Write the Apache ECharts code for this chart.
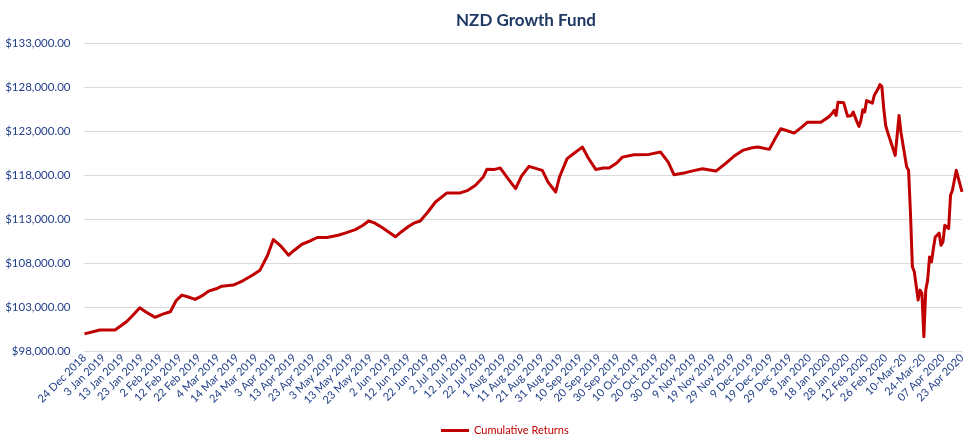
<!DOCTYPE html>
<html>
<head>
<meta charset="utf-8">
<title>NZD Growth Fund</title>
<script src="https://cdn.jsdelivr.net/npm/echarts@6/dist/echarts.min.js"></script>
<style>
  html, body { margin: 0; padding: 0; background: #fff; }
  #main { width: 968px; height: 437px; }
</style>
</head>
<body>
<div id="main"></div>
<script>
// x 轴刻度标签（每 10 个类目一个）
var tickLabels = [
  "24 Dec 2018", "3 Jan 2019", "13 Jan 2019", "23 Jan 2019", "2 Feb 2019",
  "12 Feb 2019", "22 Feb 2019", "4 Mar 2019", "14 Mar 2019", "24 Mar 2019",
  "3 Apr 2019", "13 Apr 2019", "23 Apr 2019", "3 May 2019", "13 May 2019",
  "23 May 2019", "2 Jun 2019", "12 Jun 2019", "22 Jun 2019", "2 Jul 2019",
  "12 Jul 2019", "22 Jul 2019", "1 Aug 2019", "11 Aug 2019", "21 Aug 2019",
  "31 Aug 2019", "10 Sep 2019", "20 Sep 2019", "30 Sep 2019", "10 Oct 2019",
  "20 Oct 2019", "30 Oct 2019", "9 Nov 2019", "19 Nov 2019", "29 Nov 2019",
  "9 Dec 2019", "19 Dec 2019", "29 Dec 2019", "8 Jan 2020", "18 Jan 2020",
  "28 Jan 2020", "12 Feb 2020", "26 Feb 2020", "10-Mar-20", "24-Mar-20",
  "07 Apr 2020", "23 Apr 2020"
];

// 数据点所在的类目位置（从第一个日期开始计数）
var dayIndex = [
  0, 8, 16, 22, 25, 29, 32, 37, 41, 45, 48, 51, 54, 58, 62, 65, 69, 72, 78, 83,
  88, 92, 96, 99, 103, 107, 110, 114, 118, 122, 127, 133, 137, 142, 146, 149, 152, 156, 163, 166,
  170, 173, 176, 180, 184, 190, 197, 201, 205, 209, 211, 215, 218, 222, 226, 229, 233, 236, 240, 243,
  247, 249, 253, 257, 261, 264, 268, 272, 275, 279, 282, 288, 296, 302, 306, 309, 315, 320, 324, 327,
  331, 336, 341, 345, 350, 353, 359, 362, 365, 368, 372, 373, 376, 379, 386, 390, 392, 393, 394, 395,
  396, 398, 400, 402, 403, 405, 406, 407, 408, 409, 410, 411, 413, 414, 416, 417, 418, 419, 420, 421,
  423, 424, 425, 426, 427, 428, 430, 431, 432, 433, 434, 435, 436, 437, 438, 439, 440, 441, 442, 443,
  444, 445, 446, 447, 448, 449, 450, 451, 453, 454, 455, 457, 458, 460
];

// 累计收益（NZD）
var fundValues = [
  99950, 100390, 100390, 101330, 101980, 102920, 102470, 101830, 102200, 102470,
  103720, 104360, 104170, 103870, 104330, 104810, 105080, 105380, 105500, 105990,
  106630, 107200, 108900, 110690, 109930, 108900, 109470, 110150, 110500, 110920,
  110920, 111180, 111440, 111820, 112310, 112800, 112580, 112050, 111000, 111550,
  112200, 112580, 112800, 113820, 114960, 115990, 115990, 116290, 116860, 117800,
  118700, 118670, 118820, 117620, 116480, 117880, 119020, 118820, 118560, 117230,
  116100, 117800, 119890, 120570, 121210, 120000, 118670, 118820, 118820, 119390,
  120070, 120340, 120380, 120640, 119500, 118070, 118300, 118560, 118750, 118640,
  118480, 119320, 120260, 120830, 121140, 121210, 120950, 122160, 123300, 123100,
  122800, 122910, 123480, 124050, 124050, 124620, 125070, 125380, 124810, 126320,
  126320, 126250, 124730, 124810, 125190, 124050, 123560, 124240, 125460, 125190,
  126510, 126630, 126210, 127080, 127840, 128330, 128100, 125570, 123670, 122910,
  121590, 121780, 120260, 122530, 124810, 122910, 120260, 118940, 118560, 113640,
  107580, 107010, 106830, 103800, 104930, 104550, 99620, 104930, 106070, 108710,
  108140, 109660, 110980, 110980, 111430, 110040, 110410, 112310, 111940, 115720,
  116290, 118560, 118560, 116100
];

var seriesData = dayIndex.map(function (d, i) {
  return [d, fundValues[i]];
});

var labelColor = "#23408a";
var gridColor = "#d9d9d9";
var lineColor = "#c00000";

var myChart = echarts.init(document.getElementById("main"));

var option = {
  animation: false,
  backgroundColor: "#ffffff",
  textStyle: { fontFamily: "Lato, 'Open Sans', sans-serif" },
  title: {
    text: "NZD Growth Fund",
    left: 451,
    top: 7,
    textStyle: {
      color: "#1f3864",
      fontSize: 17,
      fontWeight: "bold",
      fontFamily: "Lato, 'Open Sans', sans-serif",
    },
  },
  legend: {
    left: 436,
    top: 420,
    icon: "rect",
    itemWidth: 28,
    itemHeight: 3,
    itemGap: 4,
    textStyle: { color: lineColor, fontSize: 11 },
    data: ["Cumulative Returns"],
  },
  grid: {
    left: 84.5,
    right: 0,
    top: 43.5,
    bottom: 86,
  },
  xAxis: {
    type: "value",
    min: 0,
    max: 460,
    interval: 10,
    axisLine: { show: true, lineStyle: { color: gridColor, width: 1 } },
    axisTick: { show: false },
    splitLine: { show: false },
    axisLabel: {
      rotate: 45,
      margin: 5,
      color: labelColor,
      fontSize: 11,
      showMinLabel: true,
      showMaxLabel: true,
      formatter: function (v) {
        return tickLabels[Math.round(v / 10)] || "";
      },
    },
  },
  yAxis: {
    type: "value",
    min: 98000,
    max: 133000,
    interval: 5000,
    axisLine: { show: false },
    axisTick: { show: false },
    splitLine: { lineStyle: { color: gridColor, width: 1 } },
    axisLabel: {
      margin: 14,
      color: labelColor,
      fontSize: 11.5,
      formatter: function (v) {
        return "$" + v.toLocaleString("en-US", { minimumFractionDigits: 2, maximumFractionDigits: 2 });
      },
    },
  },
  series: [
    {
      name: "Cumulative Returns",
      type: "line",
      data: seriesData,
      symbol: "none",
      lineStyle: { color: lineColor, width: 3, join: "round" },
      itemStyle: { color: lineColor },
    },
  ],
};

myChart.setOption(option);
</script>
</body>
</html>
